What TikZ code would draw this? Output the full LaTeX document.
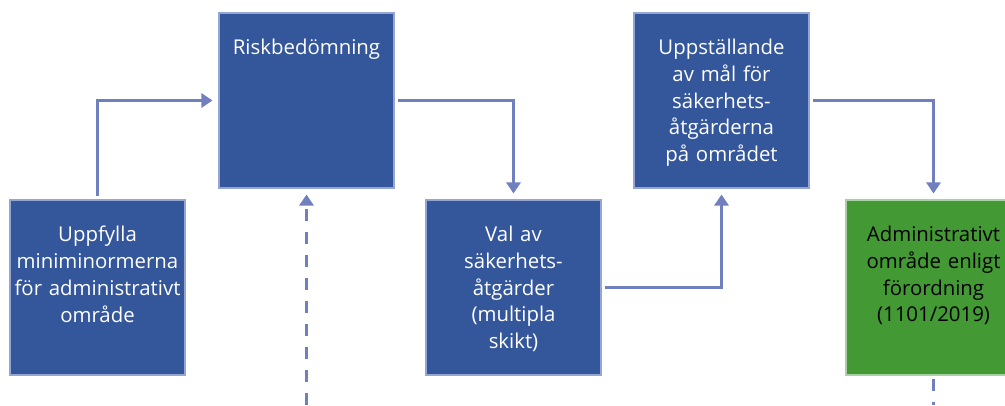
\documentclass[tikz,border=0pt]{standalone}
\usepackage{fontspec}
\setmainfont{Open Sans}
\usetikzlibrary{arrows.meta,positioning}
\definecolor{boxblue}{RGB}{52,86,154}
\definecolor{boxgreen}{RGB}{67,153,52}
\definecolor{edgeblue}{RGB}{150,165,210}
\definecolor{arrowblue}{RGB}{112,128,190}

\begin{document}
\begin{tikzpicture}[
  sbox/.style={rectangle,draw=edgeblue,line width=0.6pt,fill=boxblue,
               minimum width=3.5cm,minimum height=3.5cm,inner sep=0pt},
  stext/.style={anchor=north,yshift=-0.52cm,inner sep=0pt,text width=3.5cm,
                align=center,text=white,font=\fontsize{11.6pt}{15.3pt}\selectfont},
  arrow/.style={-{Triangle[length=0.22cm,width=0.28cm]},line width=1.6pt,arrowblue},
  dline/.style={line width=1.6pt,arrowblue,dash pattern=on 0.24cm off 0.22cm}]
\useasboundingbox (0,0) rectangle (20.1,-8.1);
% boxes
\node[sbox]                                   (b1) at (1.95,-5.75)  {};
\node[sbox]                                   (b2) at (6.13,-2.01)  {};
\node[sbox]                                   (b3) at (10.27,-5.75) {};
\node[sbox]                                   (b4) at (14.43,-2.01) {};
\node[sbox,fill=boxgreen,draw=boxgreen!45!white] (b5) at (18.67,-5.75) {};
% texts
\node[stext]            (t1) at (b1.north) {Uppfylla\\miniminormerna\\för administrativt\\område};
\node[stext]            (t2) at (b2.north) {Riskbedömning};
\node[stext]            (t3) at (b3.north) {Val av\\säkerhets-\\åtgärder\\(multipla\\skikt)};
\node[stext]            (t4) at (b4.north) {Uppställande\\av mål för\\säkerhets-\\åtgärderna\\på området};
\node[stext,text=black] (t5) at (b5.north) {Administrativt\\område enligt\\förordning\\(1101/2019)};
% connectors
\draw[arrow,shorten <=0.06cm,shorten >=0.12cm] (b1.north) |- (b2.west);
\draw[arrow,shorten <=0.06cm,shorten >=0.12cm] (b2.east) -| (b3.north);
\draw[arrow,shorten <=0.06cm,shorten >=0.12cm] (b3.east) -| (b4.south);
\draw[arrow,shorten <=0.06cm,shorten >=0.12cm] (b4.east) -| (b5.north);
\coordinate (d1) at (b2.south |- 0,-8.1);
\coordinate (d2) at (b5.south |- 0,-8.1);
\draw[dline,-{Triangle[length=0.22cm,width=0.28cm]},shorten >=0.12cm] (d1) -- (b2.south);
\draw[dline,shorten <=0.06cm] (b5.south) -- (d2);
\end{tikzpicture}
\end{document}
